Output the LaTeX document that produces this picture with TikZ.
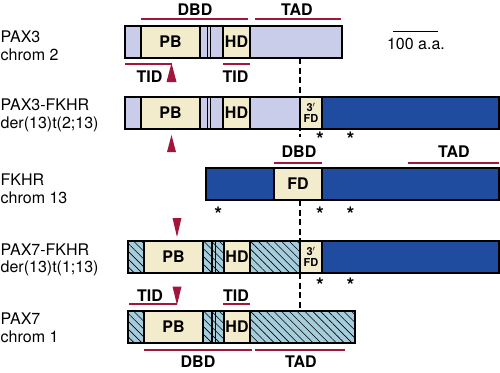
\documentclass[tikz,border=0pt]{standalone}
\usepackage{fontspec}
\setmainfont{TeX Gyre Heros}
\usetikzlibrary{patterns.meta}
\definecolor{lav}{RGB}{201,205,234}
\definecolor{cream}{RGB}{243,236,204}
\definecolor{fkblue}{RGB}{31,76,158}
\definecolor{cyanh}{RGB}{166,205,219}
\definecolor{dred}{RGB}{163,22,60}
\tikzset{
  seg/.style={draw=black,line width=1.2pt},
  lbl/.style={anchor=base west,inner sep=0pt,font=\fontsize{16}{18}\selectfont},
  dom/.style={inner sep=0pt,font=\fontsize{16}{18}\selectfont\bfseries},
  fdsmall/.style={inner sep=0pt,align=center,font=\fontsize{11}{11.5}\selectfont\bfseries},
  hatch/.style={fill=cyanh,postaction={pattern={Lines[angle=-45,distance=5.5pt,line width=0.6pt]}}},
  redline/.style={draw=dred,line width=2pt},
  tri/.style={fill=dred},
  starmark/.style={anchor=north,inner sep=0pt,font=\fontsize{20}{20}\selectfont\bfseries},
  cut/.style={line width=1.8pt,dash pattern=on 6pt off 3.5pt},
}
\begin{document}
\begin{tikzpicture}[x=1pt,y=-1pt,line join=miter]
\useasboundingbox (0,0) rectangle (500,372);
% domains
\draw[redline] (141,19)--(248,19);
\draw[redline] (255,19)--(341,19);
\draw[redline] (125,64)--(171.5,64);
\draw[redline] (223,64)--(250,64);
\draw[redline] (274,163)--(322,163);
\draw[redline] (408,163)--(499,163);
\draw[redline] (129,304)--(177,304);
\draw[redline] (223,304)--(250,304);
\draw[redline] (144,350)--(252,350);
\draw[redline] (255,350)--(345,350);
% row labels
\node[lbl] (pax3) at (0.5,42) {PAX3};
\node[lbl] (pax3chr) at (0.5,60) {chrom 2};
\node[lbl] (p3fk) at (0.5,110) {PAX3-FKHR};
\node[lbl] (p3fkder) at (0.5,128) {der(13)t(2;13)};
\node[lbl] (fkhr) at (0.5,185) {FKHR};
\node[lbl] (fkhrchr) at (0.5,203) {chrom 13};
\node[lbl] (p7fk) at (0.5,255) {PAX7-FKHR};
\node[lbl] (p7fkder) at (0.5,272) {der(13)t(1;13)};
\node[lbl] (pax7) at (0.5,324) {PAX7};
\node[lbl] (pax7chr) at (0.5,342) {chrom 1};
% scale bar
\draw[line width=1pt] (393,31)--(438,31);
\node[inner sep=0pt,font=\fontsize{16}{18}\selectfont] (scale) at (416,44) {100 a.a.};
% PAX3 and PAX3-FKHR
\fill[lav] (125,26) rectangle (342,58);
\fill[lav] (125,97) rectangle (300,129);
\fill[cream] (300,97) rectangle (322,129);
\fill[fkblue] (322,97) rectangle (499,129);
\foreach \y in {26,97}{
  \fill[cream] (141,\y) rectangle (200,\y+32);
  \fill[cream] (223,\y) rectangle (250,\y+32);
  \foreach \x in {141,200,207.5,210.5,223,250}
    \draw[seg] (\x,\y)--(\x,\y+32);
}
\draw[seg] (125,26) rectangle (342,58);
\draw[seg] (125,97) rectangle (499,129);
\draw[seg] (300,97)--(300,129) (322,97)--(322,129);
\node[dom] (pb1) at (170.5,42) {PB};
\node[dom] (hd1) at (236.5,42) {HD};
\node[dom] (pb2) at (170.5,113) {PB};
\node[dom] (hd2) at (236.5,113) {HD};
\node[fdsmall] (fd2) at (311,113) {3$'$\\FD};
% FKHR
\fill[fkblue] (206,168) rectangle (499,200);
\fill[cream] (274,168) rectangle (322,200);
\draw[seg] (206,168) rectangle (499,200);
\draw[seg] (274,168)--(274,200) (322,168)--(322,200);
\node[dom] (fd3) at (298,184) {FD};
% PAX7-FKHR and PAX7
\fill[hatch] (128,241) rectangle (300,273);
\fill[cream] (300,241) rectangle (322,273);
\fill[fkblue] (322,241) rectangle (499,273);
\fill[hatch] (128,311) rectangle (355,343);
\foreach \y in {241,311}{
  \fill[cream] (144,\y) rectangle (203,\y+32);
  \fill[cream] (224,\y) rectangle (250,\y+32);
  \foreach \x in {144,203,212,215.5,224,250}
    \draw[seg] (\x,\y)--(\x,\y+32);
}
\draw[seg] (128,241) rectangle (499,273);
\draw[seg] (300,241)--(300,273) (322,241)--(322,273);
\draw[seg] (128,311) rectangle (355,343);
\node[dom] (pb4) at (173.5,257) {PB};
\node[dom] (hd4) at (237,257) {HD};
\node[fdsmall] (fd4) at (311,257) {3$'$\\FD};
\node[dom] (pb5) at (173.5,327) {PB};
\node[dom] (hd5) at (237,327) {HD};
% breakpoint
\coordinate (c1) at (300,58); \coordinate (c2) at (300,137);
\coordinate (c3) at (300,200); \coordinate (c4) at (300,241);
\coordinate (c5) at (300,273); \coordinate (c6) at (300,311);
\draw[cut] (c1)--(c2) (c3)--(c4) (c5)--(c6);
% domain labels and break arrows
\node[dom] (dbd1) at (195,10) {DBD};
\node[dom] (tad1) at (297,10) {TAD};
\fill[tri] (171.5,63)--(176.5,82)--(166.5,82)--cycle;
\node[dom] (tid1) at (149.5,76.5) {TID};
\node[dom] (tid2) at (235.5,76.5) {TID};
\fill[tri] (171.5,135)--(176,152)--(167,152)--cycle;
\node[dom] (dbd3) at (299,151.5) {DBD};
\node[dom] (tad3) at (454,151.5) {TAD};
\fill[tri] (172.5,218)--(181.5,218)--(177,237)--cycle;
\fill[tri] (172.5,286.5)--(181.5,286.5)--(177,305)--cycle;
\node[dom] (tid5) at (150,296) {TID};
\node[dom] (tid6) at (236,296) {TID};
\node[dom] (dbd5) at (198,362) {DBD};
\node[dom] (tad5) at (301,361.5) {TAD};
% stars
\foreach \x in {320,350.5} \node[starmark] at (\x,132) {*};
\foreach \x in {218.3,320,350.5} \node[starmark] at (\x,207) {*};
\foreach \x in {320,350.5} \node[starmark] at (\x,278) {*};
\end{tikzpicture}
\end{document}
